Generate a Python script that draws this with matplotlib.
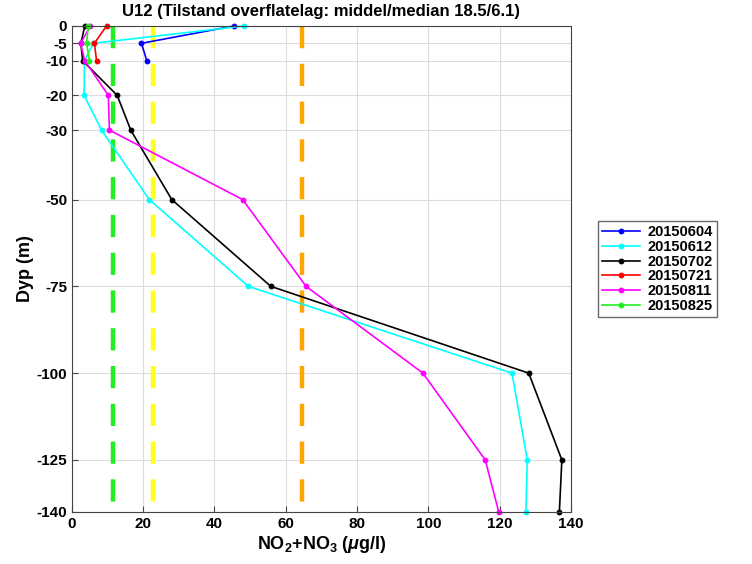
import matplotlib
matplotlib.use("Agg")
import matplotlib.pyplot as plt

plt.rcParams['font.family'] = ['Liberation Sans', 'DejaVu Sans']
plt.rcParams['mathtext.fontset'] = 'custom'
plt.rcParams['mathtext.rm'] = 'Liberation Sans:bold'
plt.rcParams['mathtext.it'] = 'Liberation Sans:bold:italic'
plt.rcParams['axes.unicode_minus'] = False

depth_ticks = [0, -5, -10, -20, -30, -50, -75, -100, -125, -140]

# serier (dato, farge, dyp, verdier)
d_0604 = [0, -5, -10]
v_0604 = [45.5, 19.5, 21.0]
d_0612 = [0, -5, -10, -20, -30, -50, -75, -100, -125, -140]
v_0612 = [48.3, 6.0, 3.5, 3.4, 8.3, 21.7, 49.5, 123.5, 127.8, 127.4]
d_0702 = [0, -5, -10, -20, -30, -50, -75, -100, -125, -140]
v_0702 = [3.6, 2.5, 3.0, 12.7, 16.5, 28.0, 55.8, 128.2, 137.5, 136.8]
d_0721 = [0, -5, -10]
v_0721 = [9.7, 6.3, 6.9]
d_0811 = [0, -5, -10, -20, -30, -50, -75, -100, -125, -140]
v_0811 = [5.2, 2.4, 3.6, 10.2, 10.5, 47.9, 65.7, 98.5, 116.0, 119.8]
d_0825 = [0, -5, -10]
v_0825 = [4.6, 4.1, 4.9]

serier = [
    ('20150604', 'blue', d_0604, v_0604),
    ('20150612', 'cyan', d_0612, v_0612),
    ('20150702', 'k', d_0702, v_0702),
    ('20150721', 'red', d_0721, v_0721),
    ('20150811', 'magenta', d_0811, v_0811),
    ('20150825', '#22ee22', d_0825, v_0825),
]

# tilstandsgrenser
grenser = [11.5, 22.7, 64.7]
grense_farger = ['#22ee22', '#ffff22', 'orange']

fig = plt.figure(figsize=(7.52, 5.64), dpi=100)
ax = fig.add_axes([0.0957, 0.0922, 0.6633, 0.8618])

for g, c in zip(grenser, grense_farger):
    ax.plot([g, g], [0, -140], color=c, lw=3.2, dashes=(5, 3.5))

for navn, farge, dyp, verdi in serier:
    ax.plot(verdi, dyp, '-o', color=farge, lw=1.2, ms=3.2, label=navn, clip_on=False)

ax.set_xlim(0, 140)
ax.set_ylim(-140, 0)
ax.set_yticks(depth_ticks)
ax.set_xticks(range(0, 141, 20))
ax.grid(True, color='#dddddd', lw=0.8)
ax.set_axisbelow(True)
ax.tick_params(direction='in', labelsize=11, length=4, color='#444444')
for lab in ax.get_xticklabels() + ax.get_yticklabels():
    lab.set_fontweight('bold')
for s in ax.spines.values():
    s.set_color('#444444')

ax.set_title('U12 (Tilstand overflatelag: middel/median 18.5/6.1)', fontsize=12, fontweight='bold', pad=7)
ax.set_ylabel('Dyp (m)', fontsize=13, fontweight='bold', labelpad=2)
ax.set_xlabel(r'NO$_2$+NO$_3$ ($\mu$g/l)', fontsize=13, fontweight='bold', labelpad=2)

leg = ax.legend(loc='center left', bbox_to_anchor=(1.04, 0.5),
                prop={'weight': 'bold', 'size': 10.5}, frameon=True, fancybox=False,
                handlelength=2.6, borderpad=0.3, labelspacing=0.05, handletextpad=0.5)
leg.get_frame().set_edgecolor('#444444')

fig.savefig('out.png', dpi=100)
